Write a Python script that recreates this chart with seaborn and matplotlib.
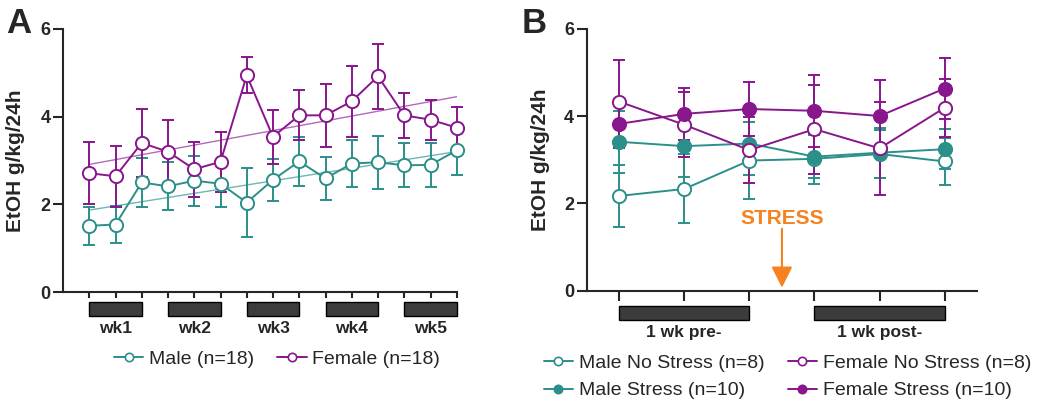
import numpy as np
import matplotlib
matplotlib.use("Agg")
import matplotlib.pyplot as plt
import matplotlib.transforms as mtransforms
from matplotlib.lines import Line2D
from matplotlib.patches import Rectangle
import seaborn as sns

# A. 15 drinking sessions over 5 weeks
sessions = np.arange(15)
male_mean = [1.51, 1.54, 2.50, 2.41, 2.54, 2.47, 2.04, 2.56, 2.98, 2.59, 2.93, 2.96, 2.89, 2.90, 3.23]
male_sem = [0.43, 0.43, 0.55, 0.55, 0.57, 0.53, 0.79, 0.48, 0.56, 0.50, 0.54, 0.61, 0.50, 0.50, 0.55]
female_mean = [2.71, 2.64, 3.40, 3.20, 2.80, 2.97, 4.94, 3.54, 4.03, 4.03, 4.35, 4.92, 4.03, 3.93, 3.75]
female_sem = [0.71, 0.70, 0.78, 0.72, 0.63, 0.69, 0.41, 0.62, 0.57, 0.72, 0.81, 0.74, 0.52, 0.46, 0.47]
week_labels = ["wk1", "wk2", "wk3", "wk4", "wk5"]
legend_a = ["Male (n=18)", "Female (n=18)"]

# B. one week before / after stress
days_b = np.arange(6)
mns_mean = [2.17, 2.33, 2.98, 3.02, 3.13, 2.96]
mns_sem = [0.70, 0.79, 0.89, 0.57, 0.55, 0.53]
ms_mean = [3.41, 3.31, 3.37, 3.07, 3.16, 3.24]
ms_sem = [0.71, 0.71, 0.71, 0.50, 0.57, 0.46]
fns_mean = [4.33, 3.80, 3.22, 3.70, 3.26, 4.19]
fns_sem = [0.95, 0.74, 0.76, 1.02, 1.07, 0.66]
fs_mean = [3.82, 4.05, 4.16, 4.12, 4.00, 4.63]
fs_sem = [0.56, 0.60, 0.62, 0.83, 0.82, 0.69]
period_labels = ["1 wk pre-", "1 wk post-"]
legend_b = ["Male No Stress (n=8)", "Male Stress (n=10)",
            "Female No Stress (n=8)", "Female Stress (n=10)"]

teal = "#2B8F8A"
purple = "#88168C"
orange = "#F5821F"

sns.set_style("ticks")
plt.rcParams['font.family'] = ['Liberation Sans', 'DejaVu Sans']


def draw_series(ax, x, mean, sem, color, filled):
    sns.lineplot(x=x, y=mean, ax=ax, color=color, marker='o', markersize=9.5,
                 markerfacecolor=color if filled else 'white', markeredgecolor=color,
                 markeredgewidth=1.4, linewidth=1.4, legend=False, zorder=3, clip_on=False)
    ax.errorbar(x, mean, yerr=sem, fmt='none', ecolor=color, elinewidth=1.4,
                capsize=4.5, capthick=1.4, zorder=2, clip_on=False)


def style_axis(ax, xticks, xtick_len):
    ax.set_ylim(0, 6)
    ax.set_yticks([0, 2, 4, 6])
    ax.set_yticklabels(['0', '2', '4', '6'], fontweight='bold', fontsize=13)
    ax.set_xticks(xticks)
    ax.set_xticklabels([])
    ax.set_xlabel('')
    sns.despine(ax=ax)
    for s in ['left', 'bottom']:
        ax.spines[s].set_linewidth(1.5)
    ax.tick_params(axis='y', width=1.5, length=7, pad=2)
    ax.tick_params(axis='x', width=1.5, length=xtick_len)
    ax.set_ylabel('EtOH g/kg/24h', fontweight='bold', fontsize=15)


def draw_bars(ax, spans, labels, y0, h, ylab):
    trans = mtransforms.blended_transform_factory(ax.transData, ax.transAxes)
    for (a, b), lab in zip(spans, labels):
        ax.add_patch(Rectangle((a, y0), b - a, h, transform=trans, clip_on=False,
                               facecolor='#3C3C3C', edgecolor='black', lw=1))
        ax.text((a + b) / 2, ylab, lab, transform=trans, ha='center', va='center',
                fontweight='bold', fontsize=12.5)


fig = plt.figure(figsize=(10.5, 4.11), dpi=100)
axA = fig.add_axes([0.060, 0.2895, 0.375, 0.64])
axB = fig.add_axes([0.5587, 0.2927, 0.372, 0.6375])

# panel A
sns.regplot(x=sessions, y=female_mean, ax=axA, scatter=False, ci=None, color='#B468BC',
            line_kws=dict(lw=1.0, zorder=1))
sns.regplot(x=sessions, y=male_mean, ax=axA, scatter=False, ci=None, color='#6DB8B2',
            line_kws=dict(lw=1.0, zorder=1))
draw_series(axA, sessions, male_mean, male_sem, teal, False)
draw_series(axA, sessions, female_mean, female_sem, purple, False)
axA.set_xlim(-1, 14)
style_axis(axA, sessions, 4)
axA.yaxis.set_label_coords(-0.096, 0.5)
draw_bars(axA, [(0, 2), (3, 5), (6, 8), (9, 11), (12, 14)], week_labels, -0.090, 0.053, -0.137)

# panel B
draw_series(axB, days_b, mns_mean, mns_sem, teal, False)
draw_series(axB, days_b, ms_mean, ms_sem, teal, True)
draw_series(axB, days_b, fns_mean, fns_sem, purple, False)
draw_series(axB, days_b, fs_mean, fs_sem, purple, True)
axB.set_xlim(-0.5, 5.5)
style_axis(axB, days_b, 7)
axB.yaxis.set_label_coords(-0.094, 0.5)
draw_bars(axB, [(0, 2), (3, 5)], period_labels, -0.112, 0.054, -0.161)

axB.annotate('', xy=(2.5, 0.07), xytext=(2.5, 1.42),
             arrowprops=dict(arrowstyle='-|>,head_length=0.4,head_width=0.2', color=orange,
                             lw=1.5, mutation_scale=32, shrinkA=0, shrinkB=0))
axB.text(2.5, 1.66, 'STRESS', color=orange, fontweight='bold', fontsize=15,
         ha='center', va='center')

# legends
def handle(color, filled):
    return Line2D([], [], color=color, marker='o', markersize=6, lw=1.4,
                  markerfacecolor=color if filled else 'white', markeredgecolor=color,
                  markeredgewidth=1.2)

fig.legend([handle(teal, False), handle(purple, False)], legend_a, loc='center',
           bbox_to_anchor=(0.264, 0.1265), ncol=2, frameon=False, fontsize=14,
           handlelength=1.5, handletextpad=0.3, columnspacing=1.2)
fig.legend([handle(teal, False), handle(teal, True), handle(purple, False), handle(purple, True)],
           legend_b, loc='center', bbox_to_anchor=(0.750, 0.083), ncol=2, frameon=False,
           fontsize=14, handlelength=1.5, handletextpad=0.3, columnspacing=1.2,
           labelspacing=0.5)

fig.text(0.006, 0.982, 'A', fontsize=25, fontweight='bold', va='top')
fig.text(0.497, 0.982, 'B', fontsize=25, fontweight='bold', va='top')

fig.savefig('out.png', dpi=100)
